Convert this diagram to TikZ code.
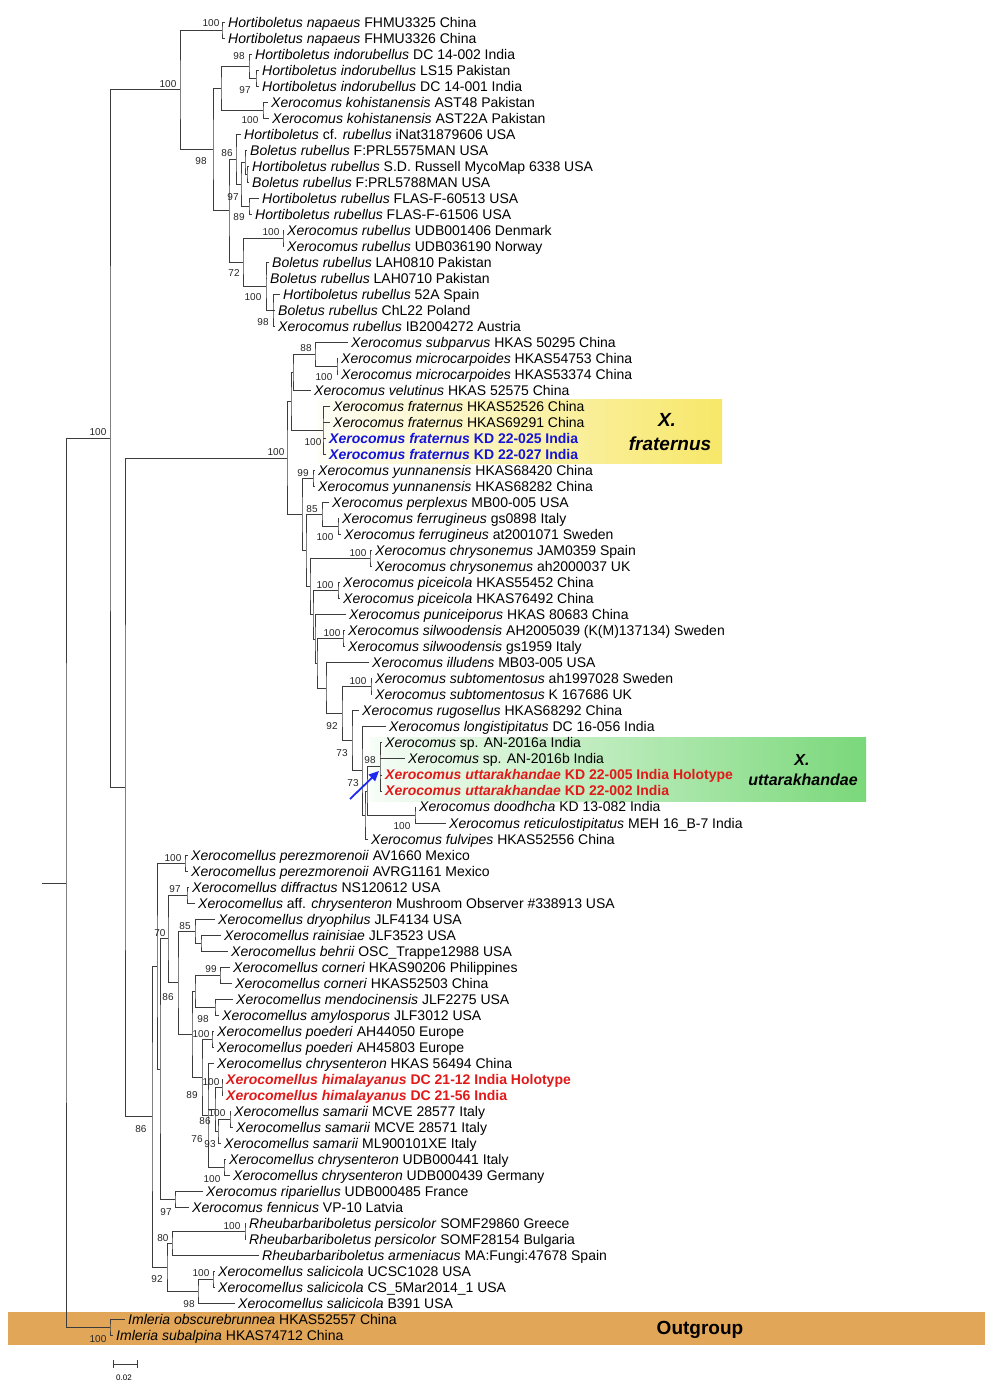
\documentclass[tikz,border=0pt]{standalone}
\usepackage{fontspec}
\setmainfont{Liberation Sans}
\usetikzlibrary{calc,arrows.meta}
\definecolor{brc}{RGB}{60,60,60}
\definecolor{tblue}{RGB}{20,20,215}
\definecolor{tred}{RGB}{225,25,25}
\definecolor{outg}{RGB}{226,166,88}
\definecolor{yel}{RGB}{247,231,105}
\definecolor{grn}{RGB}{122,216,122}
\definecolor{arrb}{RGB}{30,40,240}
\tikzset{
 br/.style={draw=brc, line width=0.9pt},
 tip/.style={anchor=west, inner xsep=3pt, inner ysep=0pt, text height=13pt, text depth=3pt, font=\fontsize{14}{16}\selectfont},
 bs/.style={inner sep=0pt, font=\fontsize{10}{11}\selectfont, text=black!85},
 boxlbl/.style={inner sep=0pt, font=\fontsize{19}{21}\bfseries\itshape},
 boxlblg/.style={inner sep=0pt, font=\fontsize{16}{18}\bfseries\itshape},
 hl/.style={font=\fontsize{14}{16}\bfseries},
}
\newcommand\cladeN[4]{\path let \p1=(#3), \p2=(#4) in coordinate (#1) at (#2pt,{0.5*(\y1+\y2)});\draw[br] (#3) -| (#1) |- (#4);}
\newcommand\midbr[2]{\draw[br] (#1 |- #2) -- (#2);}
\begin{document}
\begin{tikzpicture}[x=1pt,y=-1pt,declare function={ry(\r)=22+(\r-1)*16.02;}]
\useasboundingbox (0,0) rectangle (995,1395);
\fill[white] (0,0) rectangle (995,1395);
% highlight boxes
\shade[left color=yel!6!white, right color=yel] (318,399) rectangle (722,463);
\shade[left color=grn!6!white, right color=grn] (370,737) rectangle (866,801);
\fill[outg] (8,1312) rectangle (985,1345);
\node[boxlbl] (xf1) at (667,420) {X.};
\node[boxlbl] (xf2) at (670,444) {fraternus};
\node[boxlblg] (xu1) at (802,760) {X.};
\node[boxlblg] (xu2) at (803,780) {uttarakhandae};
\node[inner sep=0pt, font=\fontsize{19}{21}\bfseries] (og) at (700,1330) {Outgroup};
% tips
\node[tip] (t1) at (225,{ry(1)}) {\textit{Hortiboletus napaeus} FHMU3325 China};
\node[tip] (t2) at (225,{ry(2)}) {\textit{Hortiboletus napaeus} FHMU3326 China};
\node[tip] (t3) at (252,{ry(3)}) {\textit{Hortiboletus indorubellus} DC 14-002 India};
\node[tip] (t4) at (259,{ry(4)}) {\textit{Hortiboletus indorubellus} LS15 Pakistan};
\node[tip] (t5) at (259,{ry(5)}) {\textit{Hortiboletus indorubellus} DC 14-001 India};
\node[tip] (t6) at (268,{ry(6)}) {\textit{Xerocomus kohistanensis} AST48 Pakistan};
\node[tip] (t7) at (269,{ry(7)}) {\textit{Xerocomus kohistanensis} AST22A Pakistan};
\node[tip] (t8) at (241,{ry(8)}) {\textit{Hortiboletus} cf. \textit{rubellus} iNat31879606 USA};
\node[tip] (t9) at (247,{ry(9)}) {\textit{Boletus rubellus} F:PRL5575MAN USA};
\node[tip] (t10) at (249,{ry(10)}) {\textit{Hortiboletus rubellus} S.D. Russell MycoMap 6338 USA};
\node[tip] (t11) at (249,{ry(11)}) {\textit{Boletus rubellus} F:PRL5788MAN USA};
\node[tip] (t12) at (259,{ry(12)}) {\textit{Hortiboletus rubellus} FLAS-F-60513 USA};
\node[tip] (t13) at (252,{ry(13)}) {\textit{Hortiboletus rubellus} FLAS-F-61506 USA};
\node[tip] (t14) at (284,{ry(14)}) {\textit{Xerocomus rubellus} UDB001406 Denmark};
\node[tip] (t15) at (284,{ry(15)}) {\textit{Xerocomus rubellus} UDB036190 Norway};
\node[tip] (t16) at (269,{ry(16)}) {\textit{Boletus rubellus} LAH0810 Pakistan};
\node[tip] (t17) at (267,{ry(17)}) {\textit{Boletus rubellus} LAH0710 Pakistan};
\node[tip] (t18) at (280,{ry(18)}) {\textit{Hortiboletus rubellus} 52A Spain};
\node[tip] (t19) at (275,{ry(19)}) {\textit{Boletus rubellus} ChL22 Poland};
\node[tip] (t20) at (275,{ry(20)}) {\textit{Xerocomus rubellus} IB2004272 Austria};
\node[tip] (t21) at (348,{ry(21)}) {\textit{Xerocomus subparvus} HKAS 50295 China};
\node[tip] (t22) at (338,{ry(22)}) {\textit{Xerocomus microcarpoides} HKAS54753 China};
\node[tip] (t23) at (338,{ry(23)}) {\textit{Xerocomus microcarpoides} HKAS53374 China};
\node[tip] (t24) at (311,{ry(24)}) {\textit{Xerocomus velutinus} HKAS 52575 China};
\node[tip] (t25) at (330,{ry(25)}) {\textit{Xerocomus fraternus} HKAS52526 China};
\node[tip] (t26) at (330,{ry(26)}) {\textit{Xerocomus fraternus} HKAS69291 China};
\node[tip,hl,text=tblue] (t27) at (326,{ry(27)}) {\textit{Xerocomus fraternus} KD 22-025 India};
\node[tip,hl,text=tblue] (t28) at (326,{ry(28)}) {\textit{Xerocomus fraternus} KD 22-027 India};
\node[tip] (t29) at (315,{ry(29)}) {\textit{Xerocomus yunnanensis} HKAS68420 China};
\node[tip] (t30) at (315,{ry(30)}) {\textit{Xerocomus yunnanensis} HKAS68282 China};
\node[tip] (t31) at (329,{ry(31)}) {\textit{Xerocomus perplexus} MB00-005 USA};
\node[tip] (t32) at (339,{ry(32)}) {\textit{Xerocomus ferrugineus} gs0898 Italy};
\node[tip] (t33) at (341,{ry(33)}) {\textit{Xerocomus ferrugineus} at2001071 Sweden};
\node[tip] (t34) at (372,{ry(34)}) {\textit{Xerocomus chrysonemus} JAM0359 Spain};
\node[tip] (t35) at (372,{ry(35)}) {\textit{Xerocomus chrysonemus} ah2000037 UK};
\node[tip] (t36) at (340,{ry(36)}) {\textit{Xerocomus piceicola} HKAS55452 China};
\node[tip] (t37) at (340,{ry(37)}) {\textit{Xerocomus piceicola} HKAS76492 China};
\node[tip] (t38) at (346,{ry(38)}) {\textit{Xerocomus puniceiporus} HKAS 80683 China};
\node[tip] (t39) at (345,{ry(39)}) {\textit{Xerocomus silwoodensis} AH2005039 (K(M)137134) Sweden};
\node[tip] (t40) at (345,{ry(40)}) {\textit{Xerocomus silwoodensis} gs1959 Italy};
\node[tip] (t41) at (369,{ry(41)}) {\textit{Xerocomus illudens} MB03-005 USA};
\node[tip] (t42) at (372,{ry(42)}) {\textit{Xerocomus subtomentosus} ah1997028 Sweden};
\node[tip] (t43) at (372,{ry(43)}) {\textit{Xerocomus subtomentosus} K 167686 UK};
\node[tip] (t44) at (359,{ry(44)}) {\textit{Xerocomus rugosellus} HKAS68292 China};
\node[tip] (t45) at (386,{ry(45)}) {\textit{Xerocomus longistipitatus} DC 16-056 India};
\node[tip] (t46) at (382,{ry(46)}) {\textit{Xerocomus} sp. AN-2016a India};
\node[tip] (t47) at (405,{ry(47)}) {\textit{Xerocomus} sp. AN-2016b India};
\node[tip,hl,text=tred] (t48) at (382,{ry(48)}) {\textit{Xerocomus uttarakhandae} KD 22-005 India Holotype};
\node[tip,hl,text=tred] (t49) at (382,{ry(49)}) {\textit{Xerocomus uttarakhandae} KD 22-002 India};
\node[tip] (t50) at (416,{ry(50)}) {\textit{Xerocomus doodhcha} KD 13-082 India};
\node[tip] (t51) at (446,{ry(51)}) {\textit{Xerocomus reticulostipitatus} MEH 16\_B-7 India};
\node[tip] (t52) at (368,{ry(52)}) {\textit{Xerocomus fulvipes} HKAS52556 China};
\node[tip] (t53) at (188,{ry(53)}) {\textit{Xerocomellus perezmorenoii} AV1660 Mexico};
\node[tip] (t54) at (188,{ry(54)}) {\textit{Xerocomellus perezmorenoii} AVRG1161 Mexico};
\node[tip] (t55) at (189,{ry(55)}) {\textit{Xerocomellus diffractus} NS120612 USA};
\node[tip] (t56) at (195,{ry(56)}) {\textit{Xerocomellus} aff. \textit{chrysenteron} Mushroom Observer \#338913 USA};
\node[tip] (t57) at (215,{ry(57)}) {\textit{Xerocomellus dryophilus} JLF4134 USA};
\node[tip] (t58) at (221,{ry(58)}) {\textit{Xerocomellus rainisiae} JLF3523 USA};
\node[tip] (t59) at (228,{ry(59)}) {\textit{Xerocomellus behrii} OSC\_Trappe12988 USA};
\node[tip] (t60) at (230,{ry(60)}) {\textit{Xerocomellus corneri} HKAS90206 Philippines};
\node[tip] (t61) at (232,{ry(61)}) {\textit{Xerocomellus corneri} HKAS52503 China};
\node[tip] (t62) at (233,{ry(62)}) {\textit{Xerocomellus mendocinensis} JLF2275 USA};
\node[tip] (t63) at (219,{ry(63)}) {\textit{Xerocomellus amylosporus} JLF3012 USA};
\node[tip] (t64) at (214,{ry(64)}) {\textit{Xerocomellus poederi} AH44050 Europe};
\node[tip] (t65) at (214,{ry(65)}) {\textit{Xerocomellus poederi} AH45803 Europe};
\node[tip] (t66) at (214,{ry(66)}) {\textit{Xerocomellus chrysenteron} HKAS 56494 China};
\node[tip,hl,text=tred] (t67) at (223,{ry(67)}) {\textit{Xerocomellus himalayanus} DC 21-12 India Holotype};
\node[tip,hl,text=tred] (t68) at (223,{ry(68)}) {\textit{Xerocomellus himalayanus} DC 21-56 India};
\node[tip] (t69) at (231,{ry(69)}) {\textit{Xerocomellus samarii} MCVE 28577 Italy};
\node[tip] (t70) at (233,{ry(70)}) {\textit{Xerocomellus samarii} MCVE 28571 Italy};
\node[tip] (t71) at (221,{ry(71)}) {\textit{Xerocomellus samarii} ML900101XE Italy};
\node[tip] (t72) at (226,{ry(72)}) {\textit{Xerocomellus chrysenteron} UDB000441 Italy};
\node[tip] (t73) at (230,{ry(73)}) {\textit{Xerocomellus chrysenteron} UDB000439 Germany};
\node[tip] (t74) at (203,{ry(74)}) {\textit{Xerocomus ripariellus} UDB000485 France};
\node[tip] (t75) at (189,{ry(75)}) {\textit{Xerocomus fennicus} VP-10 Latvia};
\node[tip] (t76) at (246,{ry(76)}) {\textit{Rheubarbariboletus persicolor} SOMF29860 Greece};
\node[tip] (t77) at (246,{ry(77)}) {\textit{Rheubarbariboletus persicolor} SOMF28154 Bulgaria};
\node[tip] (t78) at (259,{ry(78)}) {\textit{Rheubarbariboletus armeniacus} MA:Fungi:47678 Spain};
\node[tip] (t79) at (215,{ry(79)}) {\textit{Xerocomellus salicicola} UCSC1028 USA};
\node[tip] (t80) at (215,{ry(80)}) {\textit{Xerocomellus salicicola} CS\_5Mar2014\_1 USA};
\node[tip] (t81) at (235,{ry(81)}) {\textit{Xerocomellus salicicola} B391 USA};
\node[tip] (t82) at (125,{ry(82)}) {\textit{Imleria obscurebrunnea} HKAS52557 China};
\node[tip] (t83) at (113,{ry(83)}) {\textit{Imleria subalpina} HKAS74712 China};
% clade 1
\cladeN{Nnap}{222}{t1.west}{t2.west}
\cladeN{N3c}{256}{t4.west}{t5.west}
\cladeN{N3a}{249}{t3.west}{N3c}
\cladeN{N3b}{263}{t6.west}{t7.west}
\cladeN{N3}{221}{N3a}{N3b}
\cladeN{N7c}{247}{t10.west}{t11.west}
\cladeN{N7a}{245}{t9.west}{N7c}
\cladeN{N7b}{249}{t12.west}{t13.west}
\cladeN{N7}{241}{N7a}{N7b}
\cladeN{N6}{236}{t8.west}{N7}
\cladeN{N9}{283}{t14.west}{t15.west}
\cladeN{N11}{273}{t18.west}{t20.west}
\midbr{N11}{t19.west}
\cladeN{N10}{266}{t16.west}{N11}
\midbr{N10}{t17.west}
\cladeN{N8}{243}{N9}{N10}
\cladeN{N5}{229}{N6}{N8}
\cladeN{N2}{213}{N3}{N5}
\cladeN{N1}{180}{Nnap}{N2}
% clade 2
\cladeN{N23}{337}{t22.west}{t23.west}
\cladeN{N22}{315}{t21.west}{N23}
\cladeN{N21}{293}{N22}{t24.west}
\cladeN{N24}{323}{t25.west}{t28.west}
\midbr{N24}{t26.west}
\midbr{N24}{t27.west}
\cladeN{N20b}{291}{N21}{N24}
\cladeN{N26}{313}{t29.west}{t30.west}
\cladeN{N28}{338}{t32.west}{t33.west}
\cladeN{N27}{322}{t31.west}{N28}
\cladeN{N31}{370}{t34.west}{t35.west}
\cladeN{N33}{338}{t36.west}{t37.west}
\cladeN{N35}{343}{t39.west}{t40.west}
\cladeN{N37s}{371}{t42.west}{t43.west}
\cladeN{N42}{380}{t46.west}{t49.west}
\midbr{N42}{t47.west}
\midbr{N42}{t48.west}
\cladeN{N43}{415}{t50.west}{t51.west}
\cladeN{N41}{367}{N42}{N43}
\cladeN{N40b}{365}{N41}{t52.west}
\cladeN{N40}{362}{t45.west}{N40b}
\cladeN{N39}{352}{t44.west}{N40}
\cladeN{N38}{342}{N37s}{N39}
\cladeN{N37}{326}{t41.west}{N38}
\cladeN{N34c}{317}{N35}{N37}
\cladeN{N34}{315}{t38.west}{N34c}
\cladeN{N32}{313}{N33}{N34}
\cladeN{N30}{310}{N31}{N32}
\cladeN{N29}{306}{N27}{N30}
\cladeN{N25}{302}{N26}{N29}
\cladeN{N20}{287}{N20b}{N25}
% clade 3
\cladeN{Nperez}{185}{t53.west}{t54.west}
\cladeN{Ndiff}{187}{t55.west}{t56.west}
\cladeN{NH2}{201}{t58.west}{t59.west}
\cladeN{NH}{195}{t57.west}{NH2}
\cladeN{Ncorn}{220}{t60.west}{t61.west}
\cladeN{Nmend}{215}{t62.west}{t63.west}
\cladeN{NJ}{195}{Ncorn}{Nmend}
\cladeN{Npoed}{212}{t64.west}{t65.west}
\cladeN{Nhim}{222}{t67.west}{t68.west}
\cladeN{Nsam}{230}{t69.west}{t70.west}
\cladeN{NM}{218}{Nsam}{t71.west}
\cladeN{NN}{215}{Nhim}{NM}
\cladeN{NUDB}{224}{t72.west}{t73.west}
\cladeN{NK2}{208}{t66.west}{NUDB}
\midbr{NK2}{NN}
\cladeN{NK}{202}{Npoed}{NK2}
\cladeN{NI}{192}{NJ}{NK}
\cladeN{NG}{178}{NH}{NI}
\cladeN{NF}{168}{Ndiff}{NG}
\cladeN{NRF}{175}{t74.west}{t75.west}
\cladeN{NE}{160}{NF}{NRF}
\cladeN{NC}{157}{Nperez}{NE}
\cladeN{NR1}{245}{t76.west}{t77.west}
\cladeN{NR}{172}{NR1}{t78.west}
\cladeN{NS1}{213}{t79.west}{t80.west}
\cladeN{NS}{198}{NS1}{t81.west}
\cladeN{NRS}{167}{NR}{NS}
\cladeN{NB}{152}{NC}{NRS}
% backbone
\cladeN{NX}{125}{N20}{NB}
\cladeN{Ntop}{110}{N1}{NX}
\cladeN{NIml}{110}{t82.west}{t83.west}
\cladeN{N0}{66}{Ntop}{NIml}
\path let \p1=(N0) in coordinate (root) at (42pt,\y1);
\draw[br] (root) -- (N0);
% bootstrap values
\node[bs] (b1) at (211,23) {100};
\node[bs] (b2) at (168,84) {100};
\node[bs] (b3) at (239,56) {98};
\node[bs] (b4) at (245,90) {97};
\node[bs] (b5) at (250,120) {100};
\node[bs] (b6) at (201,161) {98};
\node[bs] (b7) at (227,153) {86};
\node[bs] (b8) at (233,197) {97};
\node[bs] (b9) at (239,217) {89};
\node[bs] (b10) at (271,232) {100};
\node[bs] (b11) at (234,273) {72};
\node[bs] (b12) at (253,297) {100};
\node[bs] (b13) at (263,322) {98};
\node[bs] (b14) at (98,432) {100};
\node[bs] (b15) at (306,348) {88};
\node[bs] (b16) at (324,377) {100};
\node[bs] (b17) at (313,442) {100};
\node[bs] (b18) at (276,452) {100};
\node[bs] (b19) at (303,473) {99};
\node[bs] (b20) at (312,509) {85};
\node[bs] (b21) at (325,537) {100};
\node[bs] (b22) at (358,553) {100};
\node[bs] (b23) at (325,585) {100};
\node[bs] (b24) at (332,633) {100};
\node[bs] (b25) at (358,681) {100};
\node[bs] (b26) at (332,726) {92};
\node[bs] (b27) at (342,753) {73};
\node[bs] (b28) at (353,783) {73};
\node[bs] (b29) at (370,760) {98};
\node[bs] (b30) at (402,826) {100};
\node[bs] (b31) at (173,858) {100};
\node[bs] (b32) at (175,889) {97};
\node[bs] (b33) at (185,926) {85};
\node[bs] (b34) at (160,933) {70};
\node[bs] (b35) at (211,969) {99};
\node[bs] (b36) at (168,997) {86};
\node[bs] (b37) at (203,1019) {98};
\node[bs] (b38) at (201,1034) {100};
\node[bs] (b39) at (211,1082) {100};
\node[bs] (b40) at (192,1095) {89};
\node[bs] (b41) at (217,1113) {100};
\node[bs] (b42) at (205,1121) {86};
\node[bs] (b43) at (197,1139) {76};
\node[bs] (b44) at (210,1144) {93};
\node[bs] (b45) at (212,1179) {100};
\node[bs] (b46) at (166,1212) {97};
\node[bs] (b47) at (232,1226) {100};
\node[bs] (b48) at (163,1238) {80};
\node[bs] (b49) at (201,1273) {100};
\node[bs] (b50) at (157,1279) {92};
\node[bs] (b51) at (189,1304) {98};
\node[bs] (b52) at (141,1129) {86};
\node[bs] (b53) at (98,1339) {100};
% arrow
\coordinate (atail) at (350,799);
\coordinate (ahead) at (379,771);
\draw[arrb, line width=1.8pt, -{Triangle[length=10pt,width=9pt]}] (atail) -- (ahead);
% scale bar
\coordinate (sb1) at (113,1364);
\coordinate (sb2) at (137,1364);
\draw[br] (sb1) -- (sb2);
\draw[br] ($(sb1)+(0,-4)$) -- ($(sb1)+(0,4)$);
\draw[br] ($(sb2)+(0,-4)$) -- ($(sb2)+(0,4)$);
\node[inner sep=0pt, font=\fontsize{8}{9}\selectfont] (sbl) at (124,1378) {0.02};
\end{tikzpicture}
\end{document}
